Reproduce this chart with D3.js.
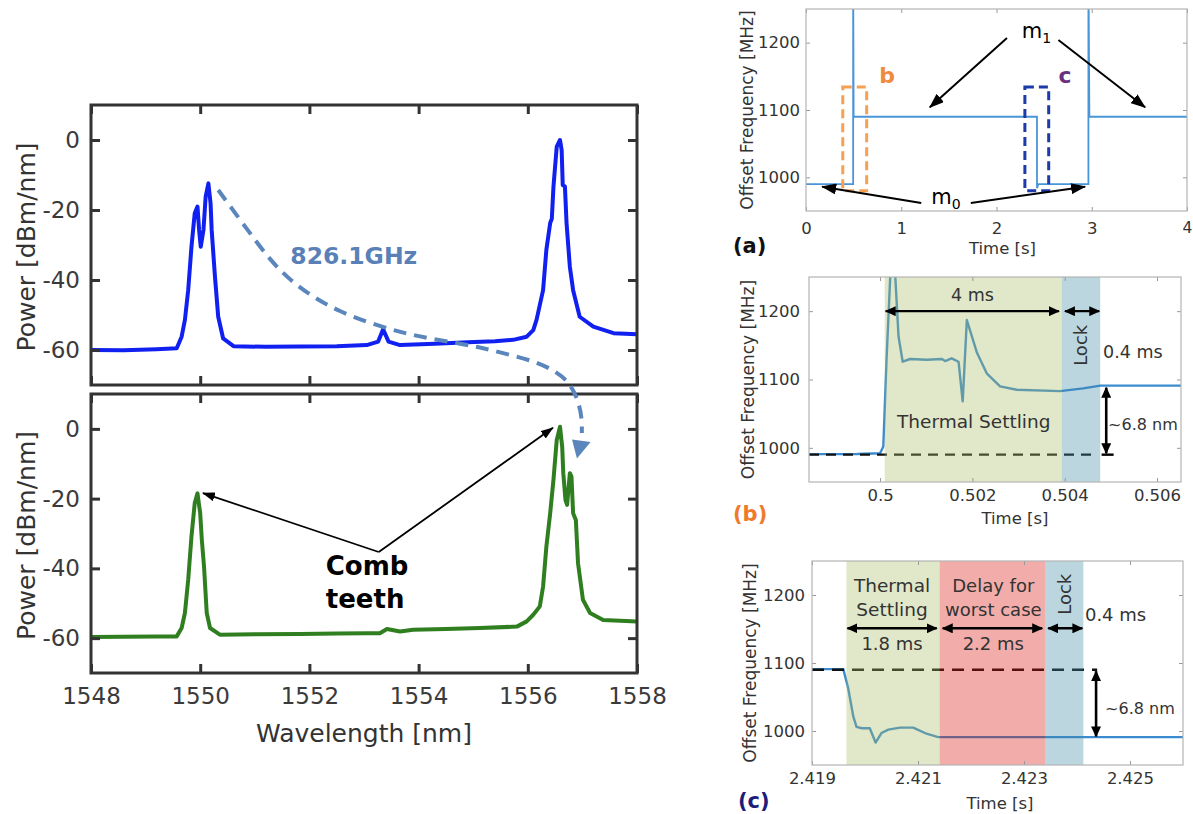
<!DOCTYPE html>
<html><head><meta charset="utf-8">
<script src="https://cdn.jsdelivr.net/npm/d3@7"></script>
<style>body{margin:0;background:#fff}svg{display:block}</style>
</head><body>
<svg id="fig" width="1193" height="814"></svg>
<script>
// ---------- spectra (left) ----------
const wavelengthTicks = [1548, 1550, 1552, 1554, 1556, 1558];
const powerTicks = [-60, -40, -20, 0];

const wlTop = [1548.0, 1548.6, 1549.2, 1549.57, 1549.66, 1549.72, 1549.78, 1549.84, 1549.87, 1549.90, 1549.95, 1549.98, 1550.01, 1550.06, 1550.10, 1550.15, 1550.19, 1550.21, 1550.27, 1550.33, 1550.42, 1550.61, 1551.2, 1551.83, 1552.5, 1553.05, 1553.26, 1553.35, 1553.45, 1553.66, 1554.3, 1554.9, 1555.4, 1555.73, 1555.98, 1556.10, 1556.16, 1556.28, 1556.34, 1556.41, 1556.44, 1556.47, 1556.53, 1556.59, 1556.62, 1556.64, 1556.68, 1556.71, 1556.77, 1556.83, 1556.95, 1557.20, 1557.57, 1558.0];
const pwTop = [-60.0, -60.1, -59.8, -59.5, -56.2, -51.4, -42.9, -30.5, -25.7, -20.9, -19.0, -25.7, -30.5, -25.7, -16.2, -12.4, -18.1, -25.7, -39.0, -50.5, -56.7, -58.9, -59.1, -59.0, -58.9, -58.6, -57.6, -54.1, -57.6, -58.6, -58.2, -57.8, -57.5, -57.1, -56.2, -54.3, -51.4, -42.9, -31.4, -23.7, -22.5, -13.3, -1.9, 0.0, -2.9, -12.9, -13.3, -23.8, -36.2, -42.9, -50.5, -53.3, -55.2, -55.5];

const wlBot = [1548.0, 1548.6, 1549.2, 1549.57, 1549.66, 1549.72, 1549.78, 1549.84, 1549.90, 1549.95, 1550.0, 1550.03, 1550.07, 1550.12, 1550.18, 1550.36, 1551.0, 1551.83, 1552.5, 1553.05, 1553.29, 1553.42, 1553.66, 1553.90, 1554.5, 1555.12, 1555.80, 1555.98, 1556.10, 1556.22, 1556.28, 1556.34, 1556.41, 1556.47, 1556.53, 1556.59, 1556.63, 1556.65, 1556.69, 1556.72, 1556.77, 1556.80, 1556.83, 1556.88, 1556.92, 1557.01, 1557.14, 1557.38, 1558.0];
const pwBot = [-59.7, -59.6, -59.5, -59.5, -57.1, -52.8, -43.3, -30.9, -21.3, -18.5, -24.2, -31.8, -39.5, -52.8, -57.1, -59.0, -58.9, -58.8, -58.7, -58.6, -58.6, -57.4, -58.1, -57.6, -57.4, -57.1, -56.7, -55.2, -53.3, -50.9, -45.2, -33.8, -24.2, -14.6, -3.2, 0.6, -5.1, -12.7, -20.4, -21.8, -12.7, -13.7, -24.2, -26.1, -38.5, -49.0, -52.8, -54.8, -55.2];

// spacing guide between the two teeth (top-panel units; it runs on into the lower panel)
const guideWl = [1550.33, 1550.91, 1551.28, 1551.64, 1552.07, 1552.56, 1553.11, 1553.66, 1554.15, 1554.70, 1555.18, 1555.67, 1556.17, 1556.53, 1556.77, 1556.92, 1556.99, 1556.99];
const guideDb = [-14.3, -26.6, -34.3, -40.0, -44.9, -49.1, -52.3, -54.9, -56.6, -58.0, -59.4, -61.4, -63.4, -66.3, -69.4, -74.3, -79.1, -83.7];
const spacingLabel = "826.1GHz";

// ---------- offset frequency traces (right) ----------
const freqTicks = [1000, 1100, 1200];
const timeTicksA = [0, 1, 2, 3, 4];
const timeTicksB = [0.5, 0.502, 0.504, 0.506];
const timeTicksC = [2.419, 2.421, 2.423, 2.425];

const stepT = [0, 0.495, 0.495, 0.500, 2.425, 2.425, 2.44, 2.965, 2.965, 2.975, 4];
const stepF = [990, 990, 1320, 1090, 1090, 984, 990, 990, 1320, 1090, 1090];

const zoomBT = [0.49846, 0.4995, 0.50000, 0.50007, 0.50014, 0.50022, 0.50028, 0.50033, 0.50040, 0.50049, 0.50065, 0.50101, 0.50134, 0.50141, 0.50155, 0.50170, 0.50179, 0.50188, 0.50210, 0.50231, 0.50260, 0.50296, 0.50390, 0.50440, 0.50477, 0.50652];
const zoomBF = [990.8, 991, 992, 1002, 1129, 1250, 1320, 1250, 1163, 1126, 1130, 1129, 1130, 1127, 1131, 1126, 1068, 1187, 1139, 1109, 1090, 1085, 1083, 1087, 1091, 1091];

const zoomCT = [2.419, 2.41959, 2.41968, 2.41978, 2.41984, 2.41994, 2.42009, 2.42020, 2.42031, 2.42044, 2.42066, 2.42091, 2.42116, 2.42138, 2.426];
const zoomCF = [1091, 1091, 1064, 1021, 1006, 1004, 1004, 983, 997, 1002, 1005, 1005, 996, 991, 991];

// phases of a mode hop (s)
const phasesB = [["settle", 0.5001, 0.50394], ["lock", 0.50394, 0.50477]];
const phasesC = [["settle", 2.41965, 2.42141], ["delay", 2.42141, 2.42340], ["lock", 2.42340, 2.42412]];

// ---------- drawing ----------
const svg = d3.select("#fig");
svg.append("rect").attr("width", 1193).attr("height", 814).attr("fill", "#fff");
const defs = svg.append("defs");
const FONT = "DejaVu Sans";

function marker(id, color, len, wid) {
  defs.append("marker").attr("id", id)
    .attr("viewBox", `0 0 ${len} ${wid}`).attr("refX", len - 1).attr("refY", wid / 2)
    .attr("markerWidth", len).attr("markerHeight", wid)
    .attr("markerUnits", "userSpaceOnUse").attr("orient", "auto-start-reverse")
    .append("path").attr("d", `M0,0L${len},${wid / 2}L0,${wid}Z`).attr("fill", color);
}
marker("ahSmall", "#000", 13, 9);
marker("ahMid", "#000", 15, 11);
marker("ahDbl", "#000", 11, 10);

function clip(id, x, y) {
  const [x0, x1] = x.range(), [y0, y1] = y.range();
  defs.append("clipPath").attr("id", id).append("rect")
    .attr("x", x0).attr("y", y1).attr("width", x1 - x0).attr("height", y0 - y1);
}

function frame(g, x, y, o) {
  const [x0, x1] = x.range(), [y0, y1] = y.range();
  const fmt = d => String(d);
  const parts = [
    [d3.axisBottom(x).tickValues(o.xTicks).tickSize(-o.tick).tickPadding(o.xPad).tickFormat(o.xLabels ? fmt : () => ""), `translate(0,${y0})`],
    [d3.axisTop(x).tickValues(o.xTicks).tickSize(-o.tick).tickFormat(() => ""), `translate(0,${y1})`],
    [d3.axisLeft(y).tickValues(o.yTicks).tickSize(-o.tick).tickPadding(o.yPad).tickFormat(fmt), `translate(${x0},0)`],
    [d3.axisRight(y).tickValues(o.yTicks).tickSize(-o.tick).tickFormat(() => ""), `translate(${x1},0)`]
  ];
  parts.forEach(([ax, tr]) => {
    const a = g.append("g").attr("transform", tr).call(ax);
    a.select(".domain").remove();
    a.attr("font-family", FONT).attr("font-size", o.fs);
    a.selectAll("line").attr("stroke", o.tickColor).attr("stroke-width", o.tickW);
    a.selectAll("text").attr("fill", o.textColor);
  });
  g.append("rect").attr("x", x0).attr("y", y1).attr("width", x1 - x0).attr("height", y0 - y1)
    .attr("fill", "none").attr("stroke", o.frameColor).attr("stroke-width", o.frameW);
}

function text(g, s, x, y, o = {}) {
  return g.append("text").attr("x", x).attr("y", y).text(s)
    .attr("font-family", FONT).attr("font-size", o.fs || 16)
    .attr("font-weight", o.bold ? "bold" : "normal")
    .attr("fill", o.fill || "#333").attr("text-anchor", o.anchor || "start")
    .attr("dominant-baseline", o.base || "auto");
}

function arrow(g, x1, y1, x2, y2, o = {}) {
  const l = g.append("line").attr("x1", x1).attr("y1", y1).attr("x2", x2).attr("y2", y2)
    .attr("stroke", "#000").attr("stroke-width", o.w || 2)
    .attr("marker-end", `url(#${o.m || "ahSmall"})`);
  if (o.both) l.attr("marker-start", `url(#${o.m || "ahSmall"})`);
  return l;
}

// ===== left: optical spectra =====
const xW = d3.scaleLinear().domain([1548, 1558]).range([91, 637]);
const yTop = d3.scaleLinear().domain([-70, 10]).range([385, 105]);
const yBot = d3.scaleLinear().domain([-70, 10]).range([673, 394]);
const leftStyle = { xTicks: wavelengthTicks, yTicks: powerTicks, tick: 9, tickW: 3, tickColor: "#333",
  frameColor: "#333", frameW: 3, fs: 23, textColor: "#3a3a3a", xPad: 15, yPad: 11 };

const gl = svg.append("g");
clip("clipTop", xW, yTop);
clip("clipBot", xW, yBot);

gl.append("path").datum(d3.zip(wlTop, pwTop)).attr("clip-path", "url(#clipTop)")
  .attr("d", d3.line().x(d => xW(d[0])).y(d => yTop(d[1])))
  .attr("fill", "none").attr("stroke", "#1020f0").attr("stroke-width", 4)
  .attr("stroke-linejoin", "round").attr("stroke-linecap", "round");
gl.append("path").datum(d3.zip(wlBot, pwBot)).attr("clip-path", "url(#clipBot)")
  .attr("d", d3.line().x(d => xW(d[0])).y(d => yBot(d[1])))
  .attr("fill", "none").attr("stroke", "#2f7f20").attr("stroke-width", 4)
  .attr("stroke-linejoin", "round").attr("stroke-linecap", "round");

frame(gl.append("g"), xW, yTop, { ...leftStyle, xLabels: false });
frame(gl.append("g"), xW, yBot, { ...leftStyle, xLabels: true });

text(gl, "Power [dBm/nm]", 0, 0, { fs: 25, anchor: "middle", base: "central" })
  .attr("transform", `translate(26,${(yTop(10) + yTop(-70)) / 2 + 2}) rotate(-90)`);
text(gl, "Power [dBm/nm]", 0, 0, { fs: 25, anchor: "middle", base: "central" })
  .attr("transform", `translate(26,${(yBot(10) + yBot(-70)) / 2 + 2}) rotate(-90)`);
text(gl, "Wavelength [nm]", (xW(1548) + xW(1558)) / 2, 742, { fs: 25, anchor: "middle" });

// dashed guide from the first tooth to its new position
const guideColor = "#5b86bd";
gl.append("path").datum(d3.zip(guideWl, guideDb))
  .attr("d", d3.line().curve(d3.curveBasis).x(d => xW(d[0])).y(d => yTop(d[1])))
  .attr("fill", "none").attr("stroke", guideColor).attr("stroke-width", 4)
  .attr("stroke-dasharray", "13,8");
gl.append("path")
  .attr("d", d3.line()([[xW(1556.81), yTop(-85.6)], [xW(1557.15), yTop(-86.3)], [xW(1556.90), yTop(-91.0)]]) + "Z")
  .attr("fill", guideColor);
text(gl, spacingLabel, xW(1551.65), yTop(-35.3), { fs: 23.5, bold: true, fill: "#5a80b8" });

// comb-teeth annotation
const tail = [xW(1553.27), yBot(-35.3)];
arrow(gl, tail[0], tail[1], xW(1550.05), yBot(-18.4), { w: 1.8, m: "ahSmall" });
arrow(gl, tail[0], tail[1], xW(1556.46), yBot(0.3), { w: 1.8, m: "ahSmall" });
text(gl, "Comb", xW(1552.3), 575, { fs: 26, bold: true, fill: "#000" });
text(gl, "teeth", xW(1552.3), 608, { fs: 26, bold: true, fill: "#000" });

// ===== right: offset frequency vs time =====
const rightStyle = { yTicks: freqTicks, tick: 4, tickW: 1, tickColor: "#999", frameColor: "#b4b4b4",
  frameW: 1.2, fs: 16.5, textColor: "#333", xLabels: true };
const traceColor = "#3b8bd0";
const phaseFill = { settle: "#a9ba65", delay: "#da150c", lock: "#408aa6" };

// (a) full sequence
const xA = d3.scaleLinear().domain([0, 4]).range([806, 1187]);
const yA = d3.scaleLinear().domain([950, 1250]).range([211, 9]);
const ga = svg.append("g");
clip("clipA", xA, yA);
ga.append("path").datum(d3.zip(stepT, stepF)).attr("clip-path", "url(#clipA)")
  .attr("d", d3.line().x(d => xA(d[0])).y(d => yA(d[1])))
  .attr("fill", "none").attr("stroke", "#4a95d8").attr("stroke-width", 1.8);
frame(ga.append("g"), xA, yA, { ...rightStyle, xTicks: timeTicksA, xPad: 11, yPad: 6 });
ga.selectAll("text").filter(function () { return this.textContent === "4"; }).attr("font-size", 15.5);

// zoom windows
ga.append("rect").attr("x", xA(0.386)).attr("y", yA(1134)).attr("width", xA(0.637) - xA(0.386))
  .attr("height", yA(980) - yA(1134)).attr("fill", "none").attr("stroke", "#f7a052")
  .attr("stroke-width", 3).attr("stroke-dasharray", "9,5");
ga.append("rect").attr("x", xA(2.298)).attr("y", yA(1134)).attr("width", xA(2.548) - xA(2.298))
  .attr("height", yA(980) - yA(1134)).attr("fill", "none").attr("stroke", "#1c3aa8")
  .attr("stroke-width", 3).attr("stroke-dasharray", "9,5");
text(ga, "b", xA(0.77), yA(1140), { fs: 22, bold: true, fill: "#f08a3c" });
text(ga, "c", xA(2.65), yA(1140), { fs: 22, bold: true, fill: "#6b2f7d" });

function modeLabel(g, n, x, y) {
  const t = text(g, "m", x, y, { fs: 21, fill: "#000", anchor: "middle" });
  t.append("tspan").text(n).attr("font-size", 14).attr("dy", 5);
}
modeLabel(ga, "1", xA(2.42), yA(1207));
arrow(ga, xA(2.11), yA(1207), xA(1.30), yA(1104), { m: "ahMid" });
arrow(ga, xA(2.65), yA(1204), xA(3.56), yA(1104), { m: "ahMid" });
modeLabel(ga, "0", xA(1.47), yA(960));
arrow(ga, xA(1.21), yA(962), xA(0.17), yA(986), { m: "ahMid" });
arrow(ga, xA(1.73), yA(962), xA(2.93), yA(986), { m: "ahMid" });

text(ga, "Time [s]", (xA(0) + xA(4)) / 2 + 6, 254, { fs: 16.5, anchor: "middle" });
text(ga, "Offset Frequency [MHz]", 0, 0, { fs: 17, anchor: "middle", base: "central" })
  .attr("transform", `translate(747,${(yA(950) + yA(1250)) / 2}) rotate(-90)`);
text(ga, "(a)", 733, 253, { fs: 21, bold: true, fill: "#111" });

// shared drawing for the two zoomed hops
function zoomPanel(id, x, y, tArr, fArr, phases, refLevel, dashEnd, dash) {
  const g = svg.append("g");
  clip(id, x, y);
  const c = g.append("g").attr("clip-path", `url(#${id})`);
  c.append("path").datum(d3.zip(tArr, fArr))
    .attr("d", d3.line().x(d => x(d[0])).y(d => y(d[1])))
    .attr("fill", "none").attr("stroke", traceColor).attr("stroke-width", 2.4)
    .attr("stroke-linejoin", "round");
  c.append("line").attr("x1", x.range()[0]).attr("x2", x(dashEnd))
    .attr("y1", y(refLevel)).attr("y2", y(refLevel))
    .attr("stroke", "#111").attr("stroke-width", 2.4).attr("stroke-dasharray", dash);
  c.selectAll("rect.phase").data(phases).join("rect").attr("class", "phase")
    .attr("x", d => x(d[1])).attr("width", d => x(d[2]) - x(d[1]))
    .attr("y", y.range()[1]).attr("height", y.range()[0] - y.range()[1])
    .attr("fill", d => phaseFill[d[0]]).attr("fill-opacity", 0.35);
  return g;
}

// (b) hop m0 -> m1
const xB = d3.scaleLinear().domain([0.49846, 0.50652]).range([809, 1181]);
const yB = d3.scaleLinear().domain([950, 1250]).range([482, 277]);
const gb = zoomPanel("clipB", xB, yB, zoomBT, zoomBF, phasesB, 990, 0.50466, "10,7");
frame(gb.append("g"), xB, yB, { ...rightStyle, xTicks: timeTicksB, xPad: 7, yPad: 9 });
arrow(gb, xB(0.5001) + 1, yB(1200), xB(0.50394) - 3, yB(1200), { both: true, m: "ahDbl", w: 2.4 });
arrow(gb, xB(0.50394) + 3, yB(1200), xB(0.50477) - 1, yB(1200), { both: true, m: "ahDbl", w: 2.4 });
text(gb, "4 ms", xB(0.502), yB(1223), { fs: 17.5, anchor: "middle", base: "central" });
text(gb, "Lock", 0, 0, { fs: 18, anchor: "middle", base: "central" })
  .attr("transform", `translate(${xB(0.50434)},${yB(1150)}) rotate(-90)`);
text(gb, "0.4 ms", xB(0.50483), yB(1140), { fs: 17.5, base: "central" });
text(gb, "Thermal Settling", xB(0.50203), yB(1038), { fs: 18.5, anchor: "middle", base: "central" });
arrow(gb, xB(0.5049), yB(1088), xB(0.5049), yB(992), { both: true, m: "ahDbl", w: 2.6 });
gb.append("line").attr("x1", xB(0.5048)).attr("x2", xB(0.50506)).attr("y1", yB(990)).attr("y2", yB(990))
  .attr("stroke", "#000").attr("stroke-width", 2.4);
text(gb, "~6.8 nm", xB(0.50494), yB(1034), { fs: 16, base: "central" });
text(gb, "Time [s]", 1015, 524, { fs: 16.5, anchor: "middle" });
text(gb, "Offset Frequency [MHz]", 0, 0, { fs: 17, anchor: "middle", base: "central" })
  .attr("transform", `translate(748,${(yB(950) + yB(1250)) / 2}) rotate(-90)`);
text(gb, "(b)", 733, 521, { fs: 21, bold: true, fill: "#f07a2c" });

// (c) hop m1 -> m0
const xC = d3.scaleLinear().domain([2.419, 2.426]).range([812, 1183]);
const yC = d3.scaleLinear().domain([950, 1250]).range([765, 561]);
const gc = zoomPanel("clipC", xC, yC, zoomCT, zoomCF, phasesC, 1090, 2.42438, "12,8");
frame(gc.append("g"), xC, yC, { ...rightStyle, xTicks: timeTicksC, xPad: 7, yPad: 7 });
const yArr = yC(1151);
arrow(gc, xC(2.41965) + 1, yArr, xC(2.42141) - 3, yArr, { both: true, m: "ahDbl", w: 2.4 });
arrow(gc, xC(2.42141) + 3, yArr, xC(2.4234) - 3, yArr, { both: true, m: "ahDbl", w: 2.4 });
arrow(gc, xC(2.4234) + 3, yArr, xC(2.42412) - 1, yArr, { both: true, m: "ahDbl", w: 2.4 });
text(gc, "Thermal", xC(2.42051), yC(1214), { fs: 18.5, anchor: "middle", base: "central" });
text(gc, "Settling", xC(2.42051), yC(1178), { fs: 18.5, anchor: "middle", base: "central" });
text(gc, "1.8 ms", xC(2.42051), yC(1129), { fs: 18, anchor: "middle", base: "central" });
text(gc, "Delay for", xC(2.42242), yC(1214), { fs: 18, anchor: "middle", base: "central" });
text(gc, "worst case", xC(2.42242), yC(1178), { fs: 18, anchor: "middle", base: "central" });
text(gc, "2.2 ms", xC(2.42242), yC(1129), { fs: 18, anchor: "middle", base: "central" });
text(gc, "Lock", 0, 0, { fs: 18, anchor: "middle", base: "central" })
  .attr("transform", `translate(${xC(2.42377)},${yC(1201)}) rotate(-90)`);
text(gc, "0.4 ms", xC(2.42415), yC(1171), { fs: 18, base: "central" });
arrow(gc, xC(2.42436), yC(1088), xC(2.42436), yC(992), { both: true, m: "ahDbl", w: 2.6 });
text(gc, "~6.8 nm", xC(2.42453), yC(1033), { fs: 16, base: "central" });
text(gc, "Time [s]", 1000, 809, { fs: 16.5, anchor: "middle" });
text(gc, "Offset Frequency [MHz]", 0, 0, { fs: 17, anchor: "middle", base: "central" })
  .attr("transform", `translate(750,${(yC(950) + yC(1250)) / 2}) rotate(-90)`);
text(gc, "(c)", 738, 808, { fs: 21, bold: true, fill: "#1c1c7a" });
</script>
</body></html>
